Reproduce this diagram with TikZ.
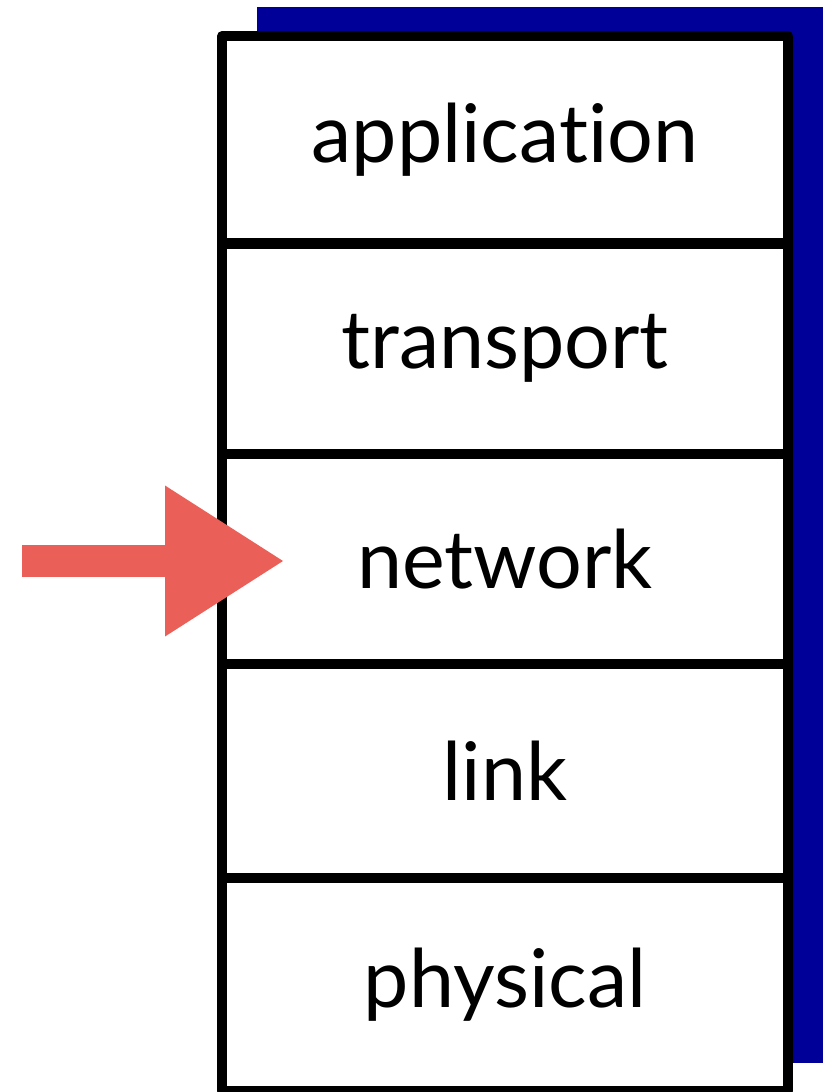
\documentclass[tikz,border=0pt]{standalone}
\usepackage{fontspec}
\setmainfont{Lato}[Ligatures={NoCommon}]
\usetikzlibrary{arrows.meta}

\definecolor{shadowblue}{RGB}{0,0,153}
\definecolor{arrowred}{RGB}{234,96,88}

\tikzset{
  layer/.style={draw, fill=white, line width=0.2cm, line join=round, minimum width=11.32cm,
    inner sep=0pt, font=\fontsize{46}{55}\selectfont},
  handarrow/.style={arrowred, line width=0.64cm,
    -{Triangle[length=2.36cm, width=3.02cm, line width=0pt]}},
}

\begin{document}
\begin{tikzpicture}[x=0.02cm, y=-0.02cm]
        \useasboundingbox (0,0) rectangle (831,1092);
        \fill[shadowblue] (257,7) rectangle (823,1063);
        \node[layer, minimum height=4.15cm] (app) at (505,139.75) {application};
        \node[layer, minimum height=4.21cm] (trans) at (505,348.75) {transport};
        \node[layer, minimum height=4.20cm] (net) at (505,559) {network};
        \node[layer, minimum height=4.28cm] (link) at (505,771) {link};
        \node[layer, minimum height=4.26cm] (phys) at (505,984.5) {physical};
        \coordinate (tail) at (22,561);
        \coordinate (tip) at (283,561);
        \draw[handarrow] (tail) -- (tip);
      \end{tikzpicture}
\end{document}
